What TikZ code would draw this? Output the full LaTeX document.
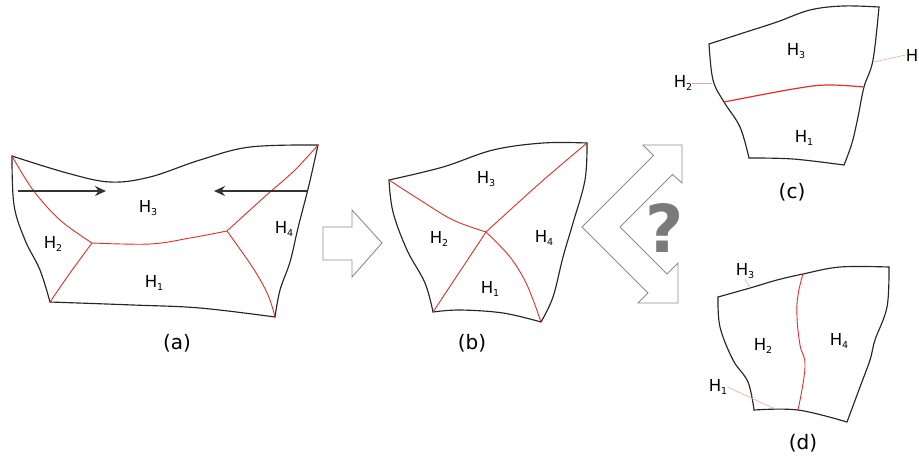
\documentclass[tikz,border=0pt]{standalone}
\usepackage{fontspec}
\setmainfont{DejaVu Sans}
\usetikzlibrary{arrows.meta}
\newcommand{\Hs}[1]{H\raisebox{-3.5pt}{\fontsize{9.5}{9.5}\selectfont #1}}
\definecolor{redc}{HTML}{E52D27}
\definecolor{pinkc}{HTML}{EFA3A3}
\definecolor{grayc}{HTML}{8C8C8C}
\definecolor{qgray}{HTML}{7A7A7A}
\begin{document}
\begin{tikzpicture}[x=1pt,y=-1pt,
  outl/.style={line width=1.15pt, draw=black!85, line join=round, line cap=round},
  redl/.style={line width=0.9pt, draw=redc},
  leader/.style={line width=0.6pt, draw=pinkc},
  lbl/.style={font=\fontsize{16.5}{16.5}\selectfont, inner sep=0pt},
  captxt/.style={font=\fontsize{20}{20}\selectfont, inner sep=0pt},
  blockarrow/.style={draw=grayc, line width=0.9pt, fill=white, line join=miter},
  blackarrow/.style={line width=1.4pt, draw=black!80, -{Stealth[length=11pt,width=10pt]}}]
\useasboundingbox (0,0) rectangle (919,459);
% ---------- panel (a)
\coordinate (aTL) at (12,156);
\coordinate (aTR) at (318,145);
\coordinate (aBL) at (50,302);
\coordinate (aBR) at (275,317);
\coordinate (aJ1) at (92,243);
\coordinate (aJ2) at (227,231);
\draw[outl] plot[smooth,tension=0.6] coordinates {(aTL) (67,173) (110,182) (150,177) (200,160) (250,147) (aTR)};
\draw[outl] plot[smooth,tension=0.6] coordinates {(aTL) (14,205) (25,240) (40,270) (aBL)};
\draw[outl] plot[smooth,tension=0.6] coordinates {(aBL) (133,305) (200,308) (aBR)};
\draw[outl] plot[smooth,tension=0.6] coordinates {(aTR) (309,185) (298,228) (290,262) (280,290) (aBR)};
\draw[redl] plot[smooth,tension=0.6] coordinates {(aTL) (33,190) (60,220) (aJ1)};
\draw[redl] plot[smooth,tension=0.6] coordinates {(aJ1) (70,273) (aBL)};
\draw[redl] plot[smooth,tension=0.6] coordinates {(aJ1) (150,244) (190,238) (aJ2)};
\draw[redl] plot[smooth,tension=0.6] coordinates {(aJ2) (250,210) (270,192) (295,170) (aTR)};
\draw[redl] plot[smooth,tension=0.6] coordinates {(aJ2) (253,268) (268,295) (aBR)};
\coordinate (arL0) at (18,191);
\coordinate (arL1) at (106,191);
\coordinate (arR0) at (308,191);
\coordinate (arR1) at (214,191);
\draw[blackarrow] (arL0) -- (arL1);
\draw[blackarrow] (arR0) -- (arR1);
\node[lbl] (aH3) at (148,208) {\Hs{3}};
\node[lbl] (aH2) at (53,244) {\Hs{2}};
\node[lbl] (aH1) at (154,283) {\Hs{1}};
\node[lbl] (aH4) at (284,229) {\Hs{4}};
\node[captxt] (capa) at (177,343) {(a)};
% ---------- block arrow
\draw[blockarrow] (323,227) -- (352,227) -- (352,210) -- (382,243) -- (352,277) -- (352,260) -- (323,260) -- cycle;
% ---------- panel (b)
\coordinate (bTL) at (389,180);
\coordinate (bTR) at (587,143);
\coordinate (bBL) at (433,312);
\coordinate (bBR) at (541,322);
\coordinate (bC) at (486,232);
\draw[outl] plot[smooth,tension=0.6] coordinates {(bTL) (443,167) (493,150) (543,143) (bTR)};
\draw[outl] plot[smooth,tension=0.6] coordinates {(bTL) (393,212) (407,250) (425,283) (bBL)};
\draw[outl] plot[smooth,tension=0.6] coordinates {(bBL) (460,310) (503,313) (bBR)};
\draw[outl] plot[smooth,tension=0.6] coordinates {(bTR) (585,180) (573,223) (563,257) (553,297) (bBR)};
\draw[redl] plot[smooth,tension=0.6] coordinates {(bTL) (420,200) (453,220) (bC)};
\draw[redl] plot[smooth,tension=0.6] coordinates {(bTR) (540,183) (bC)};
\draw[redl] (bC) -- (bBL);
\draw[redl] plot[smooth,tension=0.6] coordinates {(bC) (510,257) (527,285) (bBR)};
\node[lbl] (bH3) at (486,179) {\Hs{3}};
\node[lbl] (bH2) at (439,239) {\Hs{2}};
\node[lbl] (bH4) at (544,238) {\Hs{4}};
\node[lbl] (bH1) at (490,289) {\Hs{1}};
\node[captxt] (capb) at (472,343) {(b)};
% ---------- double chevron arrow
\draw[blockarrow] (582,227) -- (653.5,155.5) -- (643,145) -- (682,145) -- (682,183) -- (672.5,174.5)
  -- (620,227) -- (667,274) -- (678,263) -- (678,303) -- (638,303) -- (648,293) -- cycle;
\node[font=\fontsize{66}{66}\selectfont\bfseries, text=qgray, inner sep=0pt] (q) at (665,228) {?};
% ---------- panel (c)
\coordinate (cTL) at (709,44);
\coordinate (cTR) at (879,7);
\coordinate (cBL) at (749,158);
\coordinate (cBR) at (844,165);
\coordinate (cL) at (724,102);
\coordinate (cR) at (864,87);
\draw[outl] plot[smooth,tension=0.6] coordinates {(cTL) (743,33) (777,22) (810,10) (843,6) (cTR)};
\draw[outl] plot[smooth,tension=0.6] coordinates {(cTL) (713,80) (cL) (740,127) (cBL)};
\draw[outl] plot[smooth,tension=0.6] coordinates {(cBL) (793,159) (cBR)};
\draw[outl] plot[smooth,tension=0.6] coordinates {(cTR) (873,60) (cR) (858,117) (852,143) (cBR)};
\draw[redl, line width=1.2pt] plot[smooth,tension=0.6] coordinates {(cL) (793,89) (827,85) (cR)};
\node[lbl] (cH3) at (796,51) {\Hs{3}};
\node[lbl] (cH1) at (804,138) {\Hs{1}};
\node[lbl] (cH2) at (683,83) {\Hs{2}};
\node[lbl] (cH4) at (912,55) {H};
\coordinate (cl2) at (712,83);
\coordinate (cl4) at (874,62);
\draw[leader] (cH2.east) -- (cl2);
\draw[leader] (cH4.west) -- (cl4);
\node[captxt] (capc) at (792,192) {(c)};
% ---------- panel (d)
\coordinate (dTL) at (718,297);
\coordinate (dTR) at (889,267);
\coordinate (dBL) at (754,410);
\coordinate (dBR) at (847,422);
\coordinate (dT) at (803,274);
\coordinate (dB) at (798,410);
\draw[outl] plot[smooth,tension=0.6] coordinates {(dTL) (750,288) (777,280) (dT) (840,267) (dTR)};
\draw[outl] plot[smooth,tension=0.6] coordinates {(dTL) (720,327) (733,360) (748,382) (dBL)};
\draw[outl] plot[smooth,tension=0.6] coordinates {(dBL) (dB) (847,422)};
\draw[outl] plot[smooth,tension=0.6] coordinates {(dTR) (887,307) (875,340) (870,360) (860,387) (dBR)};
\draw[redl] plot[smooth,tension=0.7] coordinates {(dT) (798,295) (797,317) (800,345) (805,367) (dB)};
\node[lbl] (dH3) at (745,271) {\Hs{3}};
\node[lbl] (dH1) at (718,387) {\Hs{1}};
\node[lbl] (dH2) at (763,346) {\Hs{2}};
\node[lbl] (dH4) at (839,341) {\Hs{4}};
\coordinate (dl3) at (750,288);
\coordinate (dl1) at (773,408);
\draw[leader] (745,279) -- (dl3);
\draw[leader] (dH1.east) -- (dl1);
\node[captxt] (capd) at (803,443) {(d)};
\end{tikzpicture}
\end{document}
